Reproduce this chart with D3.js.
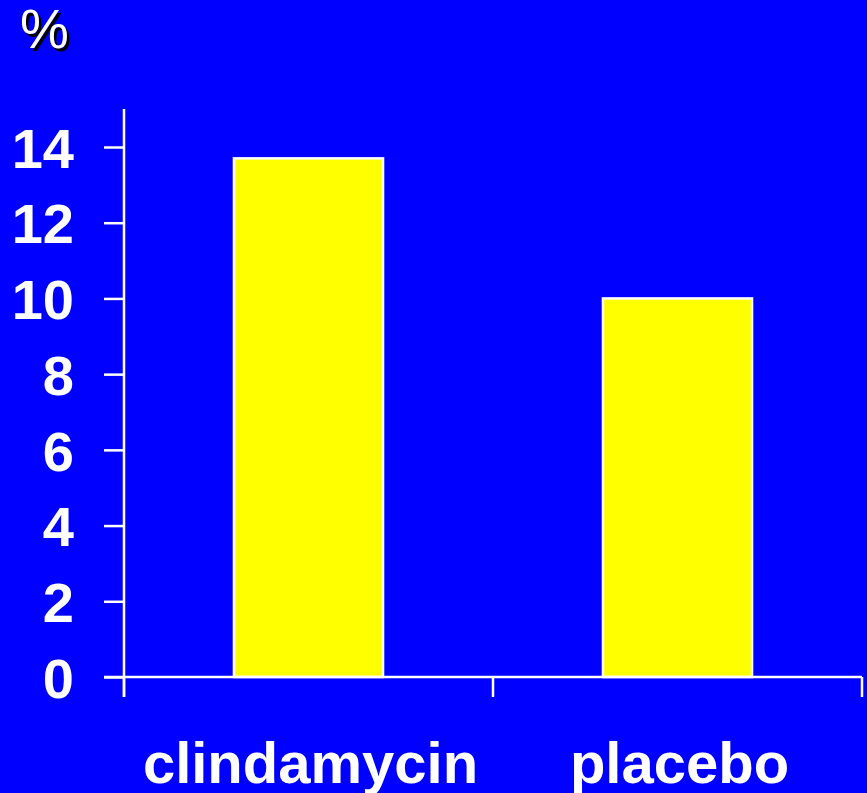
<!DOCTYPE html>
<html>
<head>
<meta charset="utf-8">
<script src="https://cdn.jsdelivr.net/npm/d3@7"></script>
<style>
  html, body { margin: 0; padding: 0; background: #0000FF; }
  svg { display: block; }
  text { font-family: "Liberation Sans", Arial, Helvetica, sans-serif; font-weight: bold; fill: #FFFFFF; }
</style>
</head>
<body>
<svg id="chart" width="867" height="793"></svg>
<script>
const categories = ["clindamycin", "placebo"];
const values = [13.7, 10.0];
const yTicks = [0, 2, 4, 6, 8, 10, 12, 14];
const yLabel = "%";

const W = 867, H = 793;
const svg = d3.select("#chart");
svg.append("rect").attr("width", W).attr("height", H).attr("fill", "#0000FF");

const x0 = 124, x1 = 862, yBase = 677, yTop = 147;
const x = d3.scaleBand().domain(categories).range([x0, x1]).paddingInner(0.596).paddingOuter(0.298);
const y = d3.scaleLinear().domain([0, 14]).range([yBase, yTop]);

// bars
svg.selectAll("rect.bar").data(values).enter().append("rect")
  .attr("class", "bar")
  .attr("x", (d, i) => x(categories[i]))
  .attr("y", d => y(d))
  .attr("width", x.bandwidth())
  .attr("height", d => y(0) - y(d))
  .attr("fill", "#FFFF00")
  .attr("stroke", "#FFFFFF")
  .attr("stroke-width", 2.5);

// y axis
const yAxis = d3.axisLeft(y).tickValues(yTicks).tickSize(20).tickPadding(30).tickFormat(d3.format("d"));
const gy = svg.append("g").attr("transform", `translate(${x0},0)`).call(yAxis);
gy.select(".domain").remove();
gy.selectAll(".tick line").attr("stroke", "#FFFFFF").attr("stroke-width", 2.5);
gy.selectAll(".tick text").attr("fill", "#FFFFFF").style("font-size", "56px")
  .style("font-family", "'Liberation Sans', Arial, sans-serif").style("font-weight", "bold")
  .attr("dy", "0.36em");
svg.append("line").attr("x1", x0).attr("x2", x0).attr("y1", 109).attr("y2", 697)
  .attr("stroke", "#FFFFFF").attr("stroke-width", 2.5);

// x axis
svg.append("line").attr("x1", 104).attr("x2", x1).attr("y1", yBase).attr("y2", yBase)
  .attr("stroke", "#FFFFFF").attr("stroke-width", 2.5);
const bounds = [x0, (x0 + x1) / 2, x1];
svg.selectAll("line.xt").data(bounds).enter().append("line")
  .attr("class", "xt")
  .attr("x1", d => d).attr("x2", d => d).attr("y1", yBase).attr("y2", 697)
  .attr("stroke", "#FFFFFF").attr("stroke-width", 2.5);

// category labels
svg.selectAll("text.cat").data(categories).enter().append("text")
  .attr("class", "cat")
  .attr("x", d => x(d) + x.bandwidth() / 2 + 2)
  .attr("y", 783)
  .attr("text-anchor", "middle")
  .style("font-size", "58px")
  .text(d => d);

// % label with shadow
svg.append("text").attr("x", 20 + 2.5).attr("y", 48 + 2.5).style("font-size", "55px")
  .style("font-weight", "normal").style("fill", "#000000").text(yLabel);
svg.append("text").attr("x", 20).attr("y", 48).style("font-size", "55px")
  .style("font-weight", "normal").text(yLabel);
</script>
</body>
</html>
